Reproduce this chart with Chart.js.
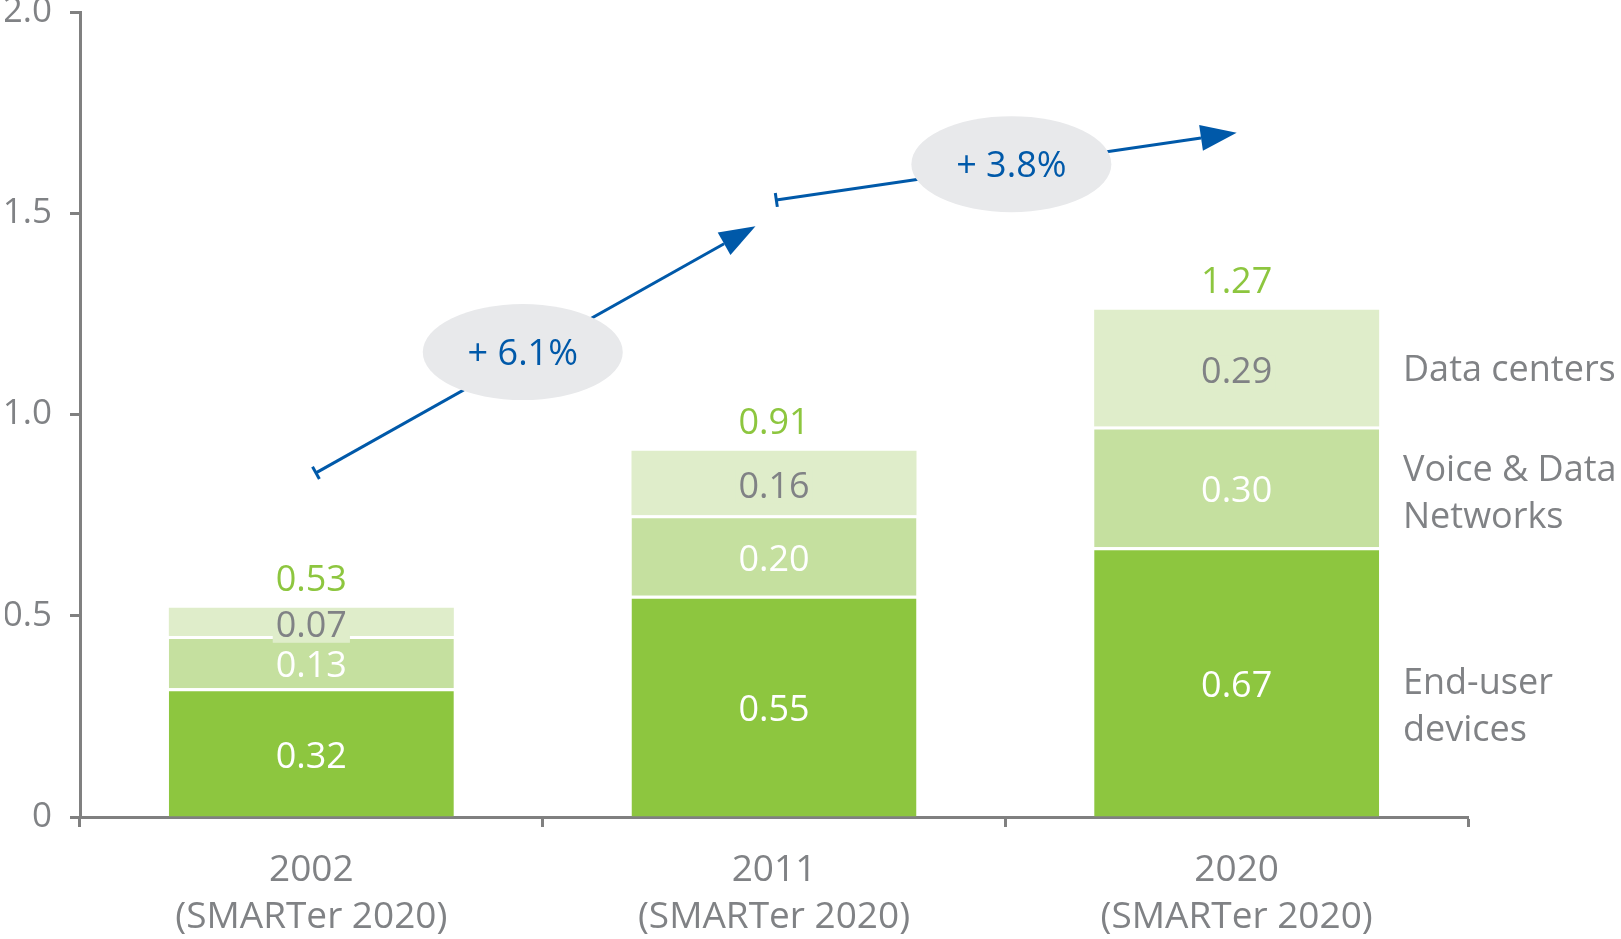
<!DOCTYPE html>
<html>
<head>
<meta charset="utf-8">
<script src="https://cdn.jsdelivr.net/npm/chart.js@4.4.1/dist/chart.umd.min.js"></script>
<style>
  html, body { margin: 0; padding: 0; background: #fff; }
  #wrap { width: 1621px; height: 939px; }
</style>
</head>
<body>
<div id="wrap"><canvas id="energyChart" width="1621" height="939"></canvas></div>
<script>
// Chart data
const years = [["2002", "(SMARTer 2020)"], ["2011", "(SMARTer 2020)"], ["2020", "(SMARTer 2020)"]];
const endUserDevices = [0.32, 0.55, 0.67];
const voiceDataNetworks = [0.13, 0.20, 0.30];
const dataCenters = [0.07, 0.16, 0.29];
const totals = [0.53, 0.91, 1.27];
const yTicks = [0, 0.5, 1.0, 1.5, 2.0];
const seriesNames = [["End-user", "devices"], ["Voice & Data", "Networks"], ["Data centers"]];
const growthRates = ["+ 6.1%", "+ 3.8%"];

// colours
const GREY = "#808285";
const AXIS = "#808080";
const BLUE = "#0059A9";
const colors = ["#8DC63F", "#C5E09F", "#DFEDCA"];
const labelColors = ["#ffffff", "#ffffff", GREY];

const FONT = "'Open Sans'";
const TEXT_DY = 5; // 'middle' baseline sits a bit high for digits

// where the growth arrows sit, in chart units (x = category index, y = value)
const arrowSpots = [
  { from: [0.01, 0.855], to: [0.96, 1.468], bubble: [0.457, 1.155] },
  { from: [1.005, 1.533], to: [2.0, 1.70], bubble: [1.513, 1.622] }
];
// nudge of the right-hand series names (px) from their segment centre
const nameNudge = [22, 4, 0];

Chart.defaults.font.family = FONT;

// draws value labels, totals, series names and the growth arrows
const annotate = {
  id: "annotate",
  afterDatasetsDraw(chart) {
    const { ctx, chartArea } = chart;
    const xs = chart.scales.x, ys = chart.scales.y;
    ctx.save();
    ctx.textAlign = "center";
    ctx.textBaseline = "middle";

    // values inside the segments
    chart.data.datasets.forEach((ds, i) => {
      chart.getDatasetMeta(i).data.forEach((bar, j) => {
        const cy = (bar.y + bar.base) / 2 + TEXT_DY;
        const txt = ds.data[j].toFixed(2);
        ctx.font = "36px " + FONT;
        if (i === 2) {
          const w = ctx.measureText(txt).width;
          ctx.fillStyle = colors[2];
          ctx.fillRect(bar.x - w / 2 - 3, cy - 18, w + 6, 34);
        }
        ctx.fillStyle = labelColors[i];
        ctx.fillText(txt, bar.x, cy);
      });
    });

    // totals above the bars
    const tops = chart.getDatasetMeta(2).data;
    ctx.fillStyle = colors[0];
    totals.forEach((t, j) => {
      ctx.fillText(t.toFixed(2), tops[j].x, tops[j].y - 27);
    });

    // series names right of the last bar
    ctx.textAlign = "left";
    ctx.fillStyle = GREY;
    ctx.font = "36px " + FONT;
    seriesNames.forEach((lines, i) => {
      const bar = chart.getDatasetMeta(i).data[2];
      const cy = (bar.y + bar.base) / 2 + nameNudge[i] + 3;
      const lh = 47;
      lines.forEach((ln, k) => {
        ctx.fillText(ln, chartArea.right - 65, cy + (k - (lines.length - 1) / 2) * lh);
      });
    });

    // growth arrows
    ctx.textAlign = "center";
    const px = p => [xs.getPixelForValue(p[0]), ys.getPixelForValue(p[1])];
    arrowSpots.forEach((a, k) => {
      const [x0, y0] = px(a.from), [x1, y1] = px(a.to), [bx, by] = px(a.bubble);
      const ang = Math.atan2(y1 - y0, x1 - x0);
      const ux = Math.cos(ang), uy = Math.sin(ang);
      const headLen = 36, headHalf = 13;
      ctx.strokeStyle = BLUE;
      ctx.fillStyle = BLUE;
      ctx.lineWidth = 3;
      ctx.beginPath();
      ctx.moveTo(x0, y0);
      ctx.lineTo(x1 - ux * headLen, y1 - uy * headLen);
      ctx.stroke();
      ctx.beginPath();
      ctx.moveTo(x0 - uy * 7, y0 + ux * 7);
      ctx.lineTo(x0 + uy * 7, y0 - ux * 7);
      ctx.stroke();
      ctx.beginPath();
      ctx.moveTo(x1, y1);
      ctx.lineTo(x1 - ux * headLen - uy * headHalf, y1 - uy * headLen + ux * headHalf);
      ctx.lineTo(x1 - ux * headLen + uy * headHalf, y1 - uy * headLen - ux * headHalf);
      ctx.closePath();
      ctx.fill();
      // bubble with the rate
      ctx.fillStyle = "#E8E9EB";
      ctx.beginPath();
      ctx.ellipse(bx, by, 100, 48, 0, 0, Math.PI * 2);
      ctx.fill();
      ctx.fillStyle = BLUE;
      ctx.font = "36px " + FONT;
      ctx.fillText(growthRates[k], bx, by + 3);
    });
    ctx.restore();
  }
};

new Chart(document.getElementById("energyChart"), {
  type: "bar",
  data: {
    labels: years,
    datasets: [
      { label: "End-user devices", data: endUserDevices, backgroundColor: colors[0], borderColor: "#fff", borderWidth: { top: 3 } },
      { label: "Voice & Data Networks", data: voiceDataNetworks, backgroundColor: colors[1], borderColor: "#fff", borderWidth: { top: 3 } },
      { label: "Data centers", data: dataCenters, backgroundColor: colors[2], borderWidth: 0 }
    ]
  },
  options: {
    responsive: false,
    animation: false,
    devicePixelRatio: 1,
    barPercentage: 0.616,
    categoryPercentage: 1,
    layout: { padding: { left: 5, right: 153, top: 0, bottom: 3 } },
    plugins: { legend: { display: false }, tooltip: { enabled: false } },
    scales: {
      x: {
        stacked: true,
        // keep the plot bottom at y=817 whatever the label padding
        afterFit: s => { s.height = 119; },
        grid: { drawOnChartArea: false, tickLength: 10, tickWidth: 3, tickColor: AXIS },
        border: { color: AXIS, width: 3 },
        ticks: { color: GREY, font: { size: 37, lineHeight: 1.27 }, padding: 20, maxRotation: 0 }
      },
      y: {
        stacked: true,
        min: 0,
        max: 2,
        afterBuildTicks: s => { s.ticks = yTicks.map(v => ({ value: v })); },
        afterFit: s => { s.paddingTop = 12; s.width = 75; },
        grid: { drawOnChartArea: false, tickLength: 10, tickWidth: 3, tickColor: AXIS },
        border: { color: AXIS, width: 3 },
        ticks: {
          color: GREY,
          font: { size: 35 },
          padding: 18,
          callback: v => v === 0 ? "0" : v.toFixed(1)
        }
      }
    }
  },
  plugins: [annotate]
});
</script>
</body>
</html>
